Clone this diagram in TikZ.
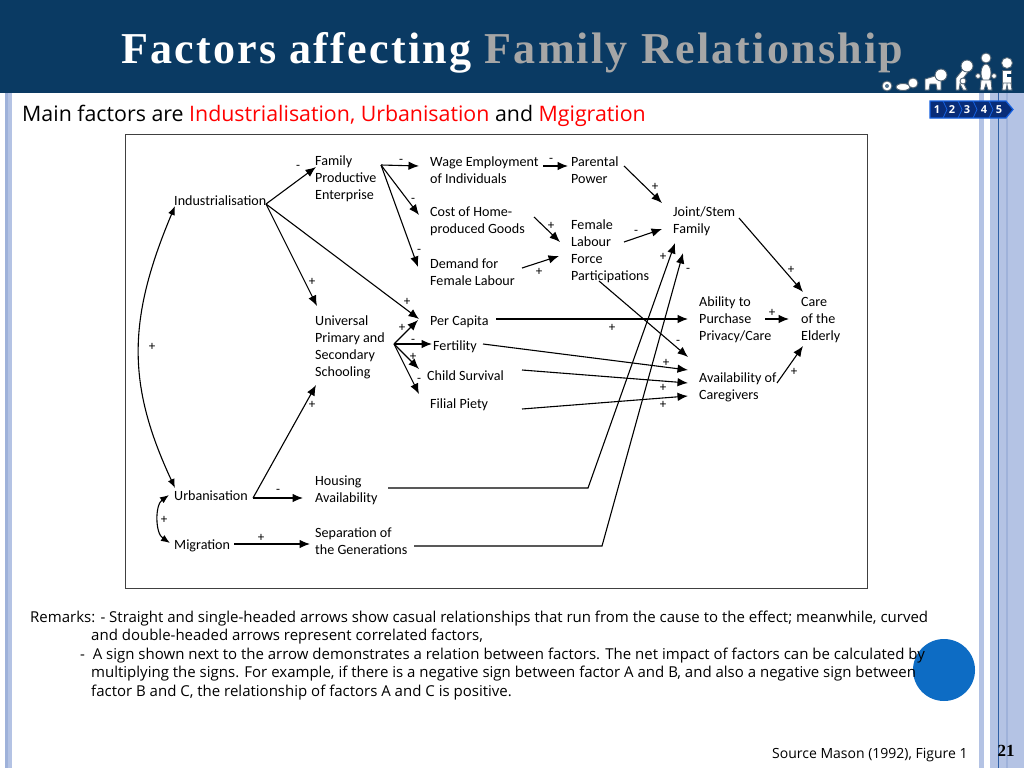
\documentclass[tikz,border=0pt]{standalone}
\usepackage{fontspec}
\setmainfont{Open Sans}
\newfontfamily\diagfont{Carlito}
\newfontfamily\titlefont[LetterSpace=5]{Liberation Serif}
\newfontfamily\numfont{Liberation Serif}
\usetikzlibrary{arrows.meta}
\definecolor{navy}{HTML}{0A3A63}
\definecolor{barblue}{HTML}{B4C3E4}
\definecolor{bardark}{HTML}{9FB2DA}
\definecolor{barline}{HTML}{2F5FA5}
\definecolor{blob}{HTML}{0D6CC4}
\definecolor{titlegray}{HTML}{A6A6A6}
\definecolor{navfill}{HTML}{082C78}
\definecolor{navedge}{HTML}{1560E0}
\tikzset{
  factor/.style = {anchor=west, inner sep=0pt, align=left,
                   font=\diagfont\fontsize{14.1}{17}\selectfont},
  sign/.style   = {inner sep=0pt, font=\diagfont\fontsize{13}{13}\selectfont},
  remark/.style = {anchor=west, inner sep=0pt, font=\fontsize{15}{17}\selectfont},
  arr/.style    = {line width=1.1pt, -{Latex[length=10.5pt,width=8.5pt]}},
  arrboth/.style= {line width=1.1pt, {Latex[length=9pt,width=7pt]}-{Latex[length=9pt,width=7pt]}},
  navstep/.style= {fill=navfill, draw=navedge, line width=1.2pt},
  navnum/.style = {inner sep=0pt, text=white, font=\fontsize{11}{11}\bfseries\selectfont},
  figure/.style = {fill=white, draw=navy!40!gray, line width=0.9pt}
}

\begin{document}
\begin{tikzpicture}[x=1pt,y=-1pt]
  \useasboundingbox (0,0) rectangle (1024,768);
  % page furniture
  \fill[white]    (0,0)     rectangle (1024,768);
  \fill[barblue]  (5,93)    rectangle (12,768);
  \fill[bardark]  (5,93)    rectangle (8,768);
  \fill[barblue]  (979,93)  rectangle (984,768);
  \fill[barblue]  (990,93)  rectangle (1024,768);
  \fill[bardark]  (1006,93) rectangle (1008,768);
  \draw[barline]  (998,93)  -- (998,768);
  \fill[navy]     (0,0)     rectangle (1024,93);

  % title and subtitle
  \node[inner sep=0pt, text=white, anchor=base west] (title) at (121,63.5)
    {\titlefont\fontsize{44.1}{44}\bfseries\selectfont Factors affecting \textcolor{titlegray}{Family Relationship}};
  \node[anchor=west, inner sep=0pt, font=\fontsize{21.35}{24}\selectfont] (main) at (22,116)
    {Main factors are \textcolor{red}{Industrialisation, Urbanisation} and \textcolor{red}{Mgigration}};

  % little figures
  \filldraw[figure] (887,86) circle (5);
  \fill[navy!70]    (887,86) circle (2);
  \filldraw[figure] (903,87) ellipse (7 and 3.5);
  \filldraw[figure] (913,83) circle (5);
  \filldraw[figure] (925,90) -- (925,79) -- (935,76) -- (941,79) -- (941,90) -- (937,90) -- (936,84) -- (930,84) -- (929,90) -- cycle;
  \filldraw[figure] (941,75) circle (6);
  \filldraw[figure] (956,90) -- (956,78) -- (964,68) -- (968,72) -- (962,80) -- (967,90) -- (963,90) -- (960,84) -- (959,90) -- cycle;
  \filldraw[figure] (967,66) circle (6);
  \filldraw[figure] (963,81) circle (3);
  \filldraw[figure] (986,73) ellipse (5 and 9);
  \filldraw[figure] (986,58) circle (5);
  \filldraw[figure] (980,90) -- (981,80) -- (991,80) -- (992,90) -- (988,90) -- (986,84) -- (984,90) -- cycle;
  \filldraw[figure] (978,76) circle (2.5);
  \filldraw[figure] (994,76) circle (2.5);
  \filldraw[figure] (1002,70) rectangle (1011,84);
  \filldraw[figure] (1007,63) circle (5.5);
  \filldraw[figure] (1002,90) -- (1003,83) -- (1011,83) -- (1012,90) -- (1008,90) -- (1007,85) -- (1006,90) -- cycle;
  \fill[navy]       (1007,74) rectangle (1016,77);

  % step chevrons
  \draw[navstep] (930,101) -- (1006,101) -- (1013,109.5) -- (1006,118) -- (930,118) -- cycle;
  \draw[navedge, line width=0.8pt] (943,101) -- (947,109.5) -- (943,118);
  \draw[navedge, line width=0.8pt] (958,101) -- (962,109.5) -- (958,118);
  \draw[navedge, line width=0.8pt] (973,101) -- (977,109.5) -- (973,118);
  \draw[navedge, line width=0.8pt] (989,101) -- (993,109.5) -- (989,118);
  \node[navnum] (nav1) at (937,110) {1};
  \node[navnum] (nav2) at (952,110) {2};
  \node[navnum] (nav3) at (967,110) {3};
  \node[navnum] (nav4) at (984,110) {4};
  \node[navnum] (nav5) at (999,110) {5};

  % frame, thinner part on the right side
  \draw[black!75, line width=1pt] (867,287) -- (867,134) -- (125,134) -- (125,588) -- (867,588) -- (867,352);
  \draw[black!75, line width=0.5pt] (867,287) -- (867,352);

  % factors
  \node[factor] (ind)   at (174,201)   {Industrialisation};
  \node[factor] (fam)   at (315,179)   {Family\\Productive\\Enterprise};
  \node[factor] (wage)  at (430,170.5) {Wage Employment\\of Individuals};
  \node[factor] (par)   at (571,170.5) {Parental\\Power};
  \node[factor] (cost)  at (430,221.5) {Cost of Home-\\produced Goods};
  \node[factor] (flf)   at (571,251.5) {Female\\Labour\\Force\\Participations};
  \node[factor] (dem)   at (430,272.5) {Demand for\\Female Labour};
  \node[factor] (joint) at (673,221.5) {Joint/Stem\\Family};
  \node[factor] (abil)  at (699,320)   {Ability to\\Purchase\\Privacy/Care};
  \node[factor] (care)  at (801,320)   {Care\\of the\\Elderly};
  \node[factor] (univ)  at (315,347)   {Universal\\Primary and\\Secondary\\Schooling};
  \node[factor] (pcap)  at (430,322)   {Per Capita};
  \node[factor] (fert)  at (433,347)   {Fertility};
  \node[factor] (child) at (427,376)   {Child Survival};
  \node[factor] (fil)   at (430,405)   {Filial Piety};
  \node[factor] (avail) at (699,387.5) {Availability of\\Caregivers};
  \node[factor] (urb)   at (174,496)   {Urbanisation};
  \node[factor] (mig)   at (174,546)   {Migration};
  \node[factor] (hous)  at (315,490.5) {Housing\\Availability};
  \node[factor] (sep)   at (315,541.5) {Separation of\\the Generations};

  % correlated factors
  \draw[arrboth] ([shift={(1,5)}]ind.west) .. controls (127,320) and (127,385) .. ([shift={(1,-8)}]urb.west);
  \draw[arrboth] ([shift={(-5,-1)}]urb.west) .. controls (155,505) and (155,533) .. ([shift={(-4,-3)}]mig.west);

  % causes
  \draw[arr] ([shift={(92,3)}]ind.west)  -- ([shift={(1,-12)}]fam.west);
  \draw[arr] ([shift={(92,3)}]ind.west)  -- ([shift={(2,-41)}]univ.west);
  \draw[arr] ([shift={(92,3)}]ind.west)  -- ([shift={(-11,-3)}]pcap.west);
  \draw[arr] ([shift={(66,-14)}]fam.west) -- ([shift={(-11,-4.5)}]wage.west);
  \draw[arr] ([shift={(66,-14)}]fam.west) -- ([shift={(-11,-6.5)}]cost.west);
  \draw[arr] ([shift={(66,-14)}]fam.west) -- ([shift={(-12,-5.5)}]dem.west);
  \draw[arr] ([shift={(113,-4.5)}]wage.west) -- ([shift={(-3,-4.5)}]par.west);
  \draw[arr] ([shift={(53,-4.5)}]par.west) -- ([shift={(-11,-18.5)}]joint.west);
  \draw[arr] ([shift={(104,-4.5)}]cost.west) -- ([shift={(-11,-9.5)}]flf.west);
  \draw[arr] ([shift={(92,-4.5)}]dem.west) -- ([shift={(-12,4.5)}]flf.west);
  \draw[arr] ([shift={(53,-9.5)}]flf.west) -- ([shift={(-11,7.5)}]joint.west);
  \draw[arr] ([shift={(66,-3.5)}]joint.west) -- ([shift={(2,-28)}]care.west);
  \draw[arr] ([shift={(28,29.5)}]flf.west) -- ([shift={(-11,-30.5)}]avail.west);
  \draw[arr] ([shift={(66,-3)}]pcap.west) -- ([shift={(-11,-1)}]abil.west);
  \draw[arr] ([shift={(50,-3)}]fert.west) -- ([shift={(-11,-17.5)}]avail.west);
  \draw[arr] ([shift={(95,-6)}]child.west) -- ([shift={(-11,-4.5)}]avail.west);
  \draw[arr] ([shift={(92,4)}]fil.west) -- ([shift={(-11,8.5)}]avail.west);
  \draw[arr] ([shift={(66,-1)}]abil.west) -- ([shift={(-12,-1)}]care.west);
  \draw[arr] ([shift={(78,-4.5)}]avail.west) -- ([shift={(2,26)}]care.west);
  \draw[arr] ([shift={(79,-3)}]univ.west) -- ([shift={(-12,-2)}]pcap.west);
  \draw[arr] ([shift={(79,-3)}]univ.west) -- ([shift={(-1,-3)}]fert.west);
  \draw[arr] ([shift={(79,-3)}]univ.west) -- ([shift={(-8,-7)}]child.west);
  \draw[arr] ([shift={(79,-3)}]univ.west) -- ([shift={(-11,-11)}]fil.west);
  \draw[arr] ([shift={(79,2)}]urb.west)  -- ([shift={(1,38)}]univ.west);
  \draw[arr] ([shift={(79,2)}]urb.west)  -- ([shift={(-12,7.5)}]hous.west);
  \draw[arr] ([shift={(60,-2)}]mig.west) -- ([shift={(-5,2.5)}]sep.west);
  \draw[arr] ([shift={(73,-2.5)}]hous.west) -- ++(200,0) -- ([shift={(2,21.5)}]joint.west);
  \draw[arr] ([shift={(99,4.5)}]sep.west) -- ++(188,0) -- ([shift={(10,31.5)}]joint.west);

  % signs on the arrows
  \node[sign] (s1)  at (298,167) {-};
  \node[sign] (s2)  at (401,161) {-};
  \node[sign] (s3)  at (413,200) {-};
  \node[sign] (s4)  at (419,251) {-};
  \node[sign] (s5)  at (312,282) {+};
  \node[sign] (s6)  at (407,302) {+};
  \node[sign] (s7)  at (402,328) {+};
  \node[sign] (s8)  at (413,341) {-};
  \node[sign] (s9)  at (413,357) {+};
  \node[sign] (s10) at (419,380) {-};
  \node[sign] (s11) at (152,347) {+};
  \node[sign] (s12) at (312,405) {+};
  \node[sign] (s13) at (551,160) {-};
  \node[sign] (s14) at (655,187) {+};
  \node[sign] (s15) at (551,226) {+};
  \node[sign] (s16) at (636,232) {-};
  \node[sign] (s17) at (539,272) {+};
  \node[sign] (s18) at (663,257) {+};
  \node[sign] (s19) at (688,270) {-};
  \node[sign] (s20) at (791,270) {+};
  \node[sign] (s21) at (772,313) {+};
  \node[sign] (s22) at (612,328) {+};
  \node[sign] (s23) at (678,342) {-};
  \node[sign] (s24) at (666,363) {+};
  \node[sign] (s25) at (663,388) {+};
  \node[sign] (s26) at (663,405) {+};
  \node[sign] (s27) at (794,372) {+};
  \node[sign] (s28) at (278,491) {-};
  \node[sign] (s29) at (164,520) {+};
  \node[sign] (s30) at (261,538) {+};

  % remarks
  \fill[blob] (944,670) circle (31);
  \node[remark] (r1) at (30,619) {Remarks: - Straight and single-headed arrows show casual relationships that run from the cause to the effect; meanwhile, curved};
  \node[remark] (r2) at (91,637) {and double-headed arrows represent correlated factors,};
  \node[remark] (r3) at (80,656) {-\ \ A sign shown next to the arrow demonstrates a relation between factors. The net impact of factors can be calculated by};
  \node[remark] (r4) at (91,674) {multiplying the signs. For example, if there is a negative sign between factor A and B, and also a negative sign between};
  \node[remark] (r5) at (91,693) {factor B and C, the relationship of factors A and C is positive.};
  \node[remark, font=\fontsize{14}{17}\selectfont] (src) at (772,755) {Source Mason (1992), Figure 1};
  \node[inner sep=0pt, font=\numfont\fontsize{17}{17}\bfseries\selectfont] (pageno) at (1006,751) {21};
\end{tikzpicture}
\end{document}
